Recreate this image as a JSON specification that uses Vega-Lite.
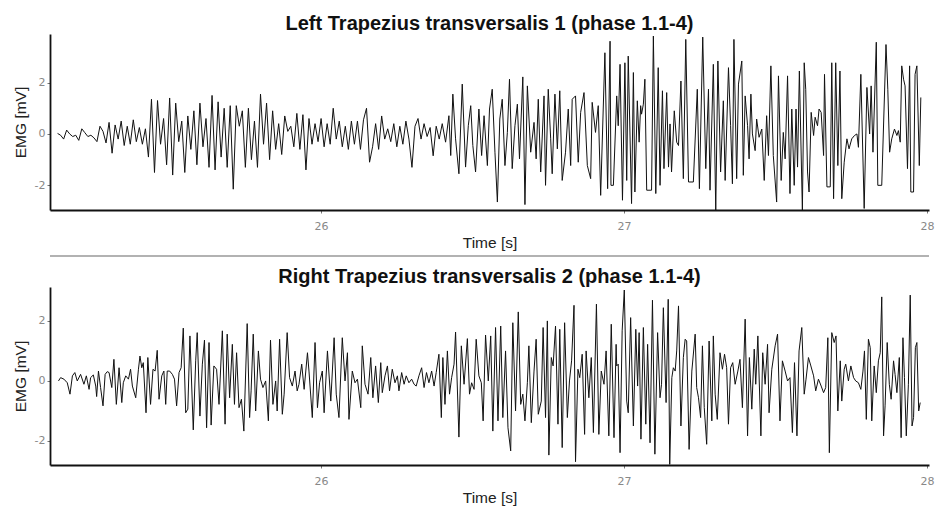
{
"$schema": "https://vega.github.io/schema/vega-lite/v6.json",
"padding": {"left": 13, "top": 13, "right": 4, "bottom": 3},
"spacing": 4,
"config": {
  "view": {"stroke": null},
  "font": "Liberation Sans",
  "title": {"fontSize": 20, "fontWeight": "bold", "font": "Liberation Sans", "color": "#111", "anchor": "middle", "frame": "group", "offset": 0.01},
  "axis": {"grid": false, "domainColor": "#111", "domainWidth": 1.8, "tickColor": "#777", "tickSize": 3, "labelColor": "#888", "labelFontSize": 11, "labelFont": "DejaVu Sans", "titleFontSize": 15.5, "titleFont": "Liberation Sans", "titleFontWeight": "normal", "titleColor": "#222"}
},
"datasets": {
"L": [
{"t":25.13,"v":0.02},{"t":25.14,"v":-0.05},{"t":25.15,"v":-0.2},{"t":25.16,"v":0.15},{"t":25.17,"v":0},{"t":25.18,"v":-0.1},{"t":25.19,"v":-0.05},{"t":25.20,"v":-0.25},{"t":25.21,"v":0.2},{"t":25.22,"v":0.05},{"t":25.23,"v":-0.1},{"t":25.24,"v":-0.05},{"t":25.25,"v":-0.15},{"t":25.26,"v":-0.3},{"t":25.27,"v":0.3},{"t":25.28,"v":0.1},{"t":25.29,"v":-0.35},{"t":25.30,"v":0.45},{"t":25.31,"v":-0.75},{"t":25.32,"v":0.35},{"t":25.33,"v":-0.2},{"t":25.34,"v":0.5},{"t":25.35,"v":-0.45},{"t":25.36,"v":0.3},{"t":25.37,"v":-0.4},{"t":25.38,"v":0.55},{"t":25.39,"v":-0.3},{"t":25.40,"v":0.25},{"t":25.41,"v":-0.4},{"t":25.42,"v":0.2},{"t":25.43,"v":-0.9},{"t":25.44,"v":1.35},{"t":25.45,"v":-1.5},{"t":25.46,"v":1.3},{"t":25.47,"v":-0.4},{"t":25.48,"v":0.6},{"t":25.49,"v":-1.2},{"t":25.50,"v":1.4},{"t":25.51,"v":-1.6},{"t":25.52,"v":1.2},{"t":25.53,"v":-0.3},{"t":25.54,"v":0.5},{"t":25.55,"v":-1.5},{"t":25.56,"v":0.7},{"t":25.57,"v":-0.6},{"t":25.58,"v":0.9},{"t":25.59,"v":-1.2},{"t":25.60,"v":1.2},{"t":25.61,"v":-0.5},{"t":25.62,"v":0.6},{"t":25.63,"v":-1.3},{"t":25.64,"v":1.5},{"t":25.65,"v":-1.4},{"t":25.66,"v":1.25},{"t":25.67,"v":-0.9},{"t":25.68,"v":1.0},{"t":25.69,"v":-1.3},{"t":25.70,"v":1.1},{"t":25.71,"v":-2.15},{"t":25.72,"v":1.1},{"t":25.73,"v":0.3},{"t":25.74,"v":0.9},{"t":25.75,"v":-1.3},{"t":25.76,"v":1.0},{"t":25.77,"v":-1.0},{"t":25.78,"v":0.5},{"t":25.79,"v":-1.3},{"t":25.80,"v":1.55},{"t":25.81,"v":-0.4},{"t":25.82,"v":1.2},{"t":25.83,"v":-1.0},{"t":25.84,"v":0.9},{"t":25.85,"v":-0.6},{"t":25.86,"v":0.4},{"t":25.87,"v":-0.8},{"t":25.88,"v":0.7},{"t":25.89,"v":0.1},{"t":25.90,"v":0.3},{"t":25.91,"v":-0.5},{"t":25.92,"v":0.8},{"t":25.93,"v":-0.6},{"t":25.94,"v":0.75},{"t":25.95,"v":-1.4},{"t":25.96,"v":0.6},{"t":25.97,"v":-0.4},{"t":25.98,"v":0.4},{"t":25.99,"v":-0.3},
{"t":26.00,"v":0.6},{"t":26.01,"v":-0.5},{"t":26.02,"v":0.4},{"t":26.03,"v":-0.4},{"t":26.04,"v":1.0},{"t":26.05,"v":-0.2},{"t":26.06,"v":0.5},{"t":26.07,"v":-0.5},{"t":26.08,"v":0.3},{"t":26.09,"v":-0.6},{"t":26.10,"v":0.5},{"t":26.11,"v":-0.4},{"t":26.12,"v":0.5},{"t":26.13,"v":-0.6},{"t":26.14,"v":0.55},{"t":26.15,"v":1.0},{"t":26.16,"v":-1.1},{"t":26.17,"v":-0.5},{"t":26.18,"v":0.4},{"t":26.19,"v":-0.6},{"t":26.20,"v":0.7},{"t":26.21,"v":-0.2},{"t":26.22,"v":0.2},{"t":26.23,"v":-0.3},{"t":26.24,"v":0.4},{"t":26.25,"v":-0.5},{"t":26.26,"v":0.3},{"t":26.27,"v":-0.4},{"t":26.28,"v":0.5},{"t":26.29,"v":-0.2},{"t":26.30,"v":-1.3},{"t":26.31,"v":0.3},{"t":26.32,"v":0.6},{"t":26.33,"v":-0.2},{"t":26.34,"v":0.4},{"t":26.35,"v":-0.1},{"t":26.36,"v":0.25},{"t":26.37,"v":-0.85},{"t":26.38,"v":0.3},{"t":26.39,"v":-0.2},{"t":26.40,"v":0.4},
{"t":26.411,"v":-0.32},{"t":26.422,"v":0.71},{"t":26.428,"v":-0.84},{"t":26.435,"v":1.55},{"t":26.444,"v":-0.19},{"t":26.455,"v":-1.55},{"t":26.466,"v":1.94},{"t":26.477,"v":-1.29},{"t":26.486,"v":0.32},{"t":26.494,"v":1.1},{"t":26.501,"v":-0.45},{"t":26.510,"v":-1.48},{"t":26.521,"v":0.97},{"t":26.530,"v":-0.84},{"t":26.538,"v":0.71},{"t":26.549,"v":-1.23},{"t":26.556,"v":0.97},{"t":26.565,"v":1.74},{"t":26.574,"v":-0.71},{"t":26.582,"v":-2.65},{"t":26.590,"v":0.58},{"t":26.598,"v":1.35},{"t":26.607,"v":-1.23},{"t":26.615,"v":0.06},{"t":26.622,"v":2.13},{"t":26.631,"v":-1.35},{"t":26.640,"v":0.32},{"t":26.648,"v":1.16},{"t":26.655,"v":-0.97},{"t":26.666,"v":2.22},{"t":26.673,"v":-2.75},{"t":26.681,"v":1.87},{"t":26.692,"v":-0.71},{"t":26.703,"v":0.45},{"t":26.710,"v":-0.97},{"t":26.717,"v":1.35},{"t":26.725,"v":-1.48},{"t":26.736,"v":1.48},{"t":26.741,"v":-2.0},{"t":26.750,"v":1.74},{"t":26.758,"v":-0.19},{"t":26.763,"v":-1.55},{"t":26.772,"v":1.55},{"t":26.780,"v":-0.58},{"t":26.788,"v":1.68},{"t":26.796,"v":-1.81},{"t":26.807,"v":-0.71},{"t":26.816,"v":0.97},{"t":26.824,"v":-1.23},{"t":26.829,"v":1.35},{"t":26.840,"v":1.48},{"t":26.849,"v":-1.1},{"t":26.857,"v":0.84},{"t":26.868,"v":1.61},{"t":26.879,"v":-1.23},{"t":26.890,"v":-1.74},{"t":26.895,"v":1.23},{"t":26.906,"v":0.06},{"t":26.915,"v":1.1},{"t":26.923,"v":-2.39},
{"t":26.937,"v":3.16},{"t":26.946,"v":-2.13},{"t":26.954,"v":3.61},{"t":26.957,"v":-2.0},{"t":26.965,"v":-2.0},{"t":26.976,"v":1.48},{"t":26.981,"v":0.32},{"t":26.987,"v":2.71},{"t":26.995,"v":-2.58},{"t":27.003,"v":2.77},{"t":27.009,"v":-1.81},{"t":27.014,"v":3.03},{"t":27.025,"v":-2.71},{"t":27.031,"v":2.39},{"t":27.036,"v":-2.26},{"t":27.044,"v":1.29},{"t":27.050,"v":-0.32},{"t":27.055,"v":1.1},{"t":27.058,"v":0.77},{"t":27.064,"v":1.16},{"t":27.069,"v":2.13},{"t":27.075,"v":-2.19},{"t":27.091,"v":-2.19},{"t":27.097,"v":3.81},{"t":27.105,"v":-2.32},{"t":27.113,"v":2.58},{"t":27.119,"v":-2.0},{"t":27.127,"v":1.68},{"t":27.132,"v":-1.35},{"t":27.141,"v":1.61},{"t":27.147,"v":-1.29},{"t":27.152,"v":0.39},{"t":27.157,"v":-1.48},{"t":27.166,"v":0.9},{"t":27.174,"v":-0.32},{"t":27.180,"v":-0.45},{"t":27.188,"v":2.06},{"t":27.196,"v":-1.74},{"t":27.204,"v":3.68},{"t":27.213,"v":-1.87},{"t":27.229,"v":-1.87},{"t":27.242,"v":1.74},{"t":27.249,"v":-2.13},{"t":27.260,"v":3.77},{"t":27.270,"v":-1.35},{"t":27.279,"v":1.74},{"t":27.284,"v":-2.19},{"t":27.295,"v":2.71},{"t":27.303,"v":-2.97},{"t":27.310,"v":2.84},{"t":27.319,"v":-1.48},{"t":27.328,"v":1.29},{"t":27.334,"v":-1.81},{"t":27.345,"v":2.58},{"t":27.352,"v":0.32},{"t":27.358,"v":-1.94},{"t":27.363,"v":3.68},{"t":27.372,"v":-1.74},{"t":27.378,"v":1.94},{"t":27.389,"v":2.84},{"t":27.394,"v":-1.61},{"t":27.400,"v":1.48},{"t":27.408,"v":0.32},{"t":27.413,"v":-0.97},{"t":27.419,"v":1.55},{"t":27.424,"v":0.0},{"t":27.433,"v":-0.65},{"t":27.438,"v":0.58},{"t":27.446,"v":-0.13},{"t":27.455,"v":0.19},{"t":27.463,"v":-1.81},{"t":27.471,"v":0.71},{"t":27.477,"v":-0.84},{"t":27.485,"v":2.65},{"t":27.493,"v":-0.84},{"t":27.504,"v":-2.65},{"t":27.510,"v":2.26},{"t":27.519,"v":-1.81},{"t":27.526,"v":0.06},{"t":27.532,"v":-0.97},{"t":27.540,"v":2.26},{"t":27.548,"v":-2.32},{"t":27.554,"v":0.97},{"t":27.562,"v":-2.0},{"t":27.568,"v":0.97},{"t":27.573,"v":-1.29},{"t":27.579,"v":2.45},{"t":27.589,"v":-2.97},{"t":27.595,"v":2.77},{"t":27.600,"v":1.74},{"t":27.606,"v":-1.48},{"t":27.611,"v":-2.26},{"t":27.618,"v":0.84},{"t":27.626,"v":-0.06},{"t":27.631,"v":0.65},{"t":27.639,"v":0.32},{"t":27.644,"v":0.97},{"t":27.651,"v":0.84},{"t":27.659,"v":-0.84},{"t":27.662,"v":2.32},{"t":27.670,"v":-2.06},{"t":27.681,"v":-2.06},{"t":27.686,"v":2.77},{"t":27.692,"v":-2.52},{"t":27.699,"v":2.77},{"t":27.706,"v":-1.23},{"t":27.713,"v":2.45},{"t":27.719,"v":-2.52},{"t":27.727,"v":-1.1},{"t":27.736,"v":-0.19},{"t":27.743,"v":-0.58},{"t":27.752,"v":-0.19},{"t":27.761,"v":-0.06},{"t":27.769,"v":0.0},{"t":27.774,"v":-0.52},{"t":27.782,"v":2.32},{"t":27.793,"v":-2.9},{"t":27.802,"v":1.81},{"t":27.811,"v":0.0},{"t":27.816,"v":1.87},{"t":27.822,"v":-0.71},{"t":27.833,"v":3.57},{"t":27.838,"v":-2.0},{"t":27.851,"v":-2.0},{"t":27.865,"v":3.48},{"t":27.871,"v":1.74},{"t":27.877,"v":-0.71},{"t":27.884,"v":-0.19},{"t":27.893,"v":0.19},{"t":27.901,"v":-0.06},{"t":27.906,"v":0.13},{"t":27.912,"v":-0.32},{"t":27.917,"v":2.65},{"t":27.923,"v":2.13},{"t":27.928,"v":1.87},{"t":27.936,"v":-1.35},{"t":27.943,"v":2.65},{"t":27.947,"v":-2.26},{"t":27.956,"v":-2.26},{"t":27.961,"v":2.32},{"t":27.967,"v":2.65},{"t":27.975,"v":-1.23},{"t":27.980,"v":1.42}
],
"R": [
{"t":25.133,"v":0.0},{"t":25.140,"v":0.11},{"t":25.151,"v":0.06},{"t":25.162,"v":-0.06},{"t":25.171,"v":-0.44},{"t":25.179,"v":0.17},{"t":25.187,"v":0.28},{"t":25.195,"v":0.0},{"t":25.206,"v":0.22},{"t":25.217,"v":-0.11},{"t":25.225,"v":0.17},{"t":25.234,"v":-0.28},{"t":25.239,"v":0.11},{"t":25.248,"v":0.2},{"t":25.256,"v":-0.17},{"t":25.259,"v":-0.52},{"t":25.265,"v":0.33},{"t":25.272,"v":-0.22},{"t":25.280,"v":-0.83},{"t":25.287,"v":0.22},{"t":25.294,"v":0.31},{"t":25.300,"v":0.28},{"t":25.309,"v":-0.22},{"t":25.316,"v":0.72},{"t":25.324,"v":-0.78},{"t":25.333,"v":0.44},{"t":25.342,"v":-0.72},{"t":25.347,"v":-0.06},{"t":25.355,"v":0.17},{"t":25.364,"v":0.06},{"t":25.371,"v":0.39},{"t":25.377,"v":-0.17},{"t":25.388,"v":-0.56},{"t":25.397,"v":0.39},{"t":25.402,"v":0.83},{"t":25.408,"v":0.44},{"t":25.413,"v":0.61},{"t":25.422,"v":-1.06},{"t":25.428,"v":0.78},{"t":25.437,"v":-0.78},{"t":25.445,"v":0.39},{"t":25.452,"v":0.33},{"t":25.459,"v":1.02},{"t":25.465,"v":-0.61},{"t":25.474,"v":0.17},{"t":25.481,"v":0.33},{"t":25.487,"v":-0.78},{"t":25.492,"v":0.33},{"t":25.500,"v":0.33},{"t":25.509,"v":0.22},{"t":25.516,"v":0.06},{"t":25.523,"v":-0.83},{"t":25.531,"v":0.28},{"t":25.538,"v":0.44},{"t":25.545,"v":1.76},{"t":25.553,"v":-1.06},{"t":25.560,"v":-0.94},{"t":25.567,"v":1.5},{"t":25.578,"v":-1.63},{"t":25.586,"v":0.67},{"t":25.591,"v":1.61},{"t":25.600,"v":-1.17},{"t":25.608,"v":0.56},{"t":25.615,"v":1.36},{"t":25.622,"v":-1.56},{"t":25.630,"v":1.28},{"t":25.637,"v":-1.47},{"t":25.646,"v":0.5},{"t":25.655,"v":0.39},{"t":25.663,"v":-0.78},{"t":25.674,"v":1.67},{"t":25.683,"v":-1.44},{"t":25.690,"v":1.56},{"t":25.698,"v":-0.56},{"t":25.707,"v":1.22},{"t":25.714,"v":-0.78},{"t":25.721,"v":0.94},{"t":25.729,"v":-0.89},{"t":25.737,"v":-0.61},{"t":25.745,"v":-1.67},{"t":25.756,"v":1.91},{"t":25.764,"v":-1.22},{"t":25.769,"v":-0.33},{"t":25.776,"v":1.56},{"t":25.784,"v":-1.0},{"t":25.793,"v":1.0},{"t":25.800,"v":0.06},{"t":25.808,"v":-0.22},{"t":25.817,"v":0.0},{"t":25.826,"v":-1.33},{"t":25.833,"v":1.36},{"t":25.841,"v":-0.78},{"t":25.850,"v":0.0},{"t":25.855,"v":-1.0},{"t":25.863,"v":1.39},{"t":25.872,"v":-1.11},{"t":25.878,"v":-0.44},{"t":25.888,"v":1.61},{"t":25.896,"v":0.11},{"t":25.905,"v":-0.17},{"t":25.914,"v":0.33},{"t":25.921,"v":-0.33},{"t":25.927,"v":-0.11},
{"t":25.936,"v":0.56},{"t":25.944,"v":-0.28},{"t":25.955,"v":0.94},{"t":25.960,"v":0.33},{"t":25.971,"v":-1.22},{"t":25.980,"v":1.28},{"t":25.988,"v":-0.89},{"t":25.995,"v":-0.06},{"t":26.004,"v":0.33},{"t":26.010,"v":-1.06},{"t":26.021,"v":1.0},{"t":26.032,"v":-0.67},{"t":26.043,"v":1.44},{"t":26.050,"v":-0.44},{"t":26.059,"v":-1.22},{"t":26.070,"v":1.44},{"t":26.079,"v":0.0},{"t":26.087,"v":0.94},{"t":26.092,"v":-1.28},{"t":26.103,"v":0.33},{"t":26.112,"v":-0.06},{"t":26.120,"v":0.06},{"t":26.131,"v":-0.89},{"t":26.136,"v":1.17},{"t":26.145,"v":-0.11},{"t":26.155,"v":-0.44},{"t":26.164,"v":0.78},{"t":26.171,"v":-0.56},{"t":26.180,"v":0.5},{"t":26.189,"v":-0.72},{"t":26.197,"v":0.61},{"t":26.202,"v":-0.39},{"t":26.211,"v":0.17},{"t":26.219,"v":0.5},{"t":26.226,"v":-0.33},{"t":26.235,"v":0.39},{"t":26.244,"v":-0.06},{"t":26.252,"v":0.17},{"t":26.257,"v":-0.33},{"t":26.266,"v":0.28},{"t":26.274,"v":-0.11},{"t":26.281,"v":0.17},{"t":26.290,"v":-0.06},{"t":26.299,"v":0.06},{"t":26.307,"v":-0.11},{"t":26.314,"v":-0.17},{"t":26.323,"v":0.17},{"t":26.332,"v":0.44},{"t":26.340,"v":-0.22},{"t":26.348,"v":0.28},{"t":26.356,"v":-0.06},{"t":26.365,"v":0.33},{"t":26.373,"v":-0.17},{"t":26.380,"v":0.28},{"t":26.389,"v":0.89},{"t":26.397,"v":-1.22},{"t":26.402,"v":0.78},{"t":26.409,"v":-0.78},{"t":26.417,"v":1.0},{"t":26.424,"v":-0.44},{"t":26.431,"v":0.11},{"t":26.439,"v":0.56},{"t":26.444,"v":1.63},{"t":26.455,"v":-1.87},{"t":26.463,"v":1.17},{"t":26.472,"v":-0.11},{"t":26.483,"v":1.41},{"t":26.490,"v":-0.44},{"t":26.497,"v":-0.06},{"t":26.505,"v":-0.28},{"t":26.512,"v":1.39},{"t":26.521,"v":0.17},{"t":26.529,"v":-0.06},{"t":26.535,"v":-1.33},{"t":26.543,"v":1.53},{"t":26.552,"v":0.0},{"t":26.560,"v":1.5},{"t":26.567,"v":-1.67},{"t":26.576,"v":1.78},{"t":26.584,"v":-1.33},{"t":26.593,"v":1.83},{"t":26.600,"v":-1.22},{"t":26.609,"v":1.0},{"t":26.617,"v":-1.56},{"t":26.626,"v":-2.33},{"t":26.633,"v":1.94},{"t":26.642,"v":-1.0},{"t":26.651,"v":2.3},{"t":26.659,"v":-0.78},{"t":26.666,"v":-0.44},{"t":26.673,"v":-1.33},{"t":26.681,"v":-0.06},{"t":26.686,"v":1.17},{"t":26.694,"v":-1.39},{"t":26.703,"v":0.33},{"t":26.710,"v":1.39},{"t":26.717,"v":-1.11},{"t":26.727,"v":-0.67},{"t":26.733,"v":1.78},{"t":26.741,"v":-1.22},{"t":26.747,"v":2.0},{"t":26.752,"v":-2.47},{"t":26.760,"v":0.78},{"t":26.766,"v":0.5},{"t":26.774,"v":1.83},{"t":26.782,"v":-1.44},{"t":26.788,"v":1.72},{"t":26.796,"v":-2.22},{"t":26.804,"v":1.94},{"t":26.813,"v":-1.22},{"t":26.820,"v":0.0},{"t":26.827,"v":0.67},{"t":26.835,"v":2.52},{"t":26.840,"v":-2.69},{"t":26.848,"v":0.39},{"t":26.854,"v":0.11},{"t":26.862,"v":0.89},{"t":26.870,"v":-1.78},{"t":26.875,"v":1.0},{"t":26.884,"v":-0.56},{"t":26.892,"v":0.78},{"t":26.899,"v":-1.72},{"t":26.909,"v":2.56},{"t":26.917,"v":-1.78},{"t":26.925,"v":0.33},{"t":26.934,"v":-0.11},{"t":26.941,"v":1.0},{"t":26.950,"v":-1.83},{"t":26.958,"v":1.89},{"t":26.967,"v":-1.89},{"t":26.974,"v":1.22},
{"t":26.976,"v":0.5},{"t":26.981,"v":0.56},{"t":26.987,"v":-2.39},{"t":26.994,"v":1.67},{"t":27.001,"v":3.03},{"t":27.009,"v":-0.67},{"t":27.014,"v":-1.06},{"t":27.022,"v":2.11},{"t":27.031,"v":-1.5},{"t":27.039,"v":1.72},{"t":27.045,"v":-0.17},{"t":27.050,"v":1.61},{"t":27.056,"v":-1.94},{"t":27.064,"v":1.78},{"t":27.072,"v":-1.44},{"t":27.078,"v":1.22},{"t":27.086,"v":-2.06},{"t":27.094,"v":2.69},{"t":27.102,"v":-2.44},{"t":27.111,"v":1.61},{"t":27.119,"v":-0.56},{"t":27.124,"v":-0.11},{"t":27.130,"v":2.44},{"t":27.139,"v":-0.72},{"t":27.146,"v":2.72},{"t":27.151,"v":-2.78},{"t":27.158,"v":0.11},{"t":27.163,"v":0.44},{"t":27.169,"v":0.33},{"t":27.174,"v":1.0},{"t":27.180,"v":2.5},{"t":27.188,"v":-1.5},{"t":27.196,"v":0.78},{"t":27.202,"v":1.39},{"t":27.207,"v":1.33},{"t":27.215,"v":-2.28},{"t":27.224,"v":0.33},{"t":27.235,"v":1.56},{"t":27.240,"v":-0.22},{"t":27.246,"v":-0.56},{"t":27.253,"v":-1.22},{"t":27.259,"v":1.17},{"t":27.265,"v":-0.89},{"t":27.273,"v":-2.11},{"t":27.281,"v":1.33},{"t":27.290,"v":-1.33},{"t":27.295,"v":1.5},{"t":27.301,"v":-0.44},{"t":27.308,"v":-1.28},{"t":27.317,"v":0.94},{"t":27.325,"v":0.39},{"t":27.332,"v":0.89},{"t":27.339,"v":0.44},{"t":27.345,"v":-1.44},{"t":27.352,"v":0.44},{"t":27.359,"v":0.61},{"t":27.367,"v":-0.11},{"t":27.376,"v":0.33},{"t":27.383,"v":0.72},{"t":27.391,"v":-0.89},{"t":27.400,"v":2.06},{"t":27.408,"v":-1.83},{"t":27.414,"v":0.78},{"t":27.422,"v":-0.94},{"t":27.430,"v":1.06},{"t":27.435,"v":-0.11},{"t":27.442,"v":1.5},{"t":27.452,"v":-1.83},{"t":27.458,"v":0.94},{"t":27.466,"v":-0.11},{"t":27.474,"v":1.22},{"t":27.479,"v":-1.06},{"t":27.488,"v":0.39},{"t":27.499,"v":1.17},{"t":27.507,"v":1.56},{"t":27.515,"v":-1.33},{"t":27.523,"v":0.67},{"t":27.532,"v":0.33},{"t":27.540,"v":0.0},{"t":27.548,"v":0.11},{"t":27.556,"v":-1.72},{"t":27.563,"v":0.61},{"t":27.571,"v":-1.83},{"t":27.578,"v":1.0},{"t":27.587,"v":1.78},{"t":27.595,"v":-0.44},{"t":27.601,"v":0.06},{"t":27.609,"v":0.78},{"t":27.617,"v":0.5},{"t":27.626,"v":0.17},{"t":27.633,"v":-0.33},{"t":27.642,"v":0.06},{"t":27.651,"v":-0.17},{"t":27.659,"v":-0.39},{"t":27.666,"v":-0.22},{"t":27.673,"v":1.44},{"t":27.678,"v":-2.39},{"t":27.686,"v":1.61},{"t":27.694,"v":1.28},{"t":27.700,"v":1.5},{"t":27.706,"v":-1.0},{"t":27.714,"v":0.67},{"t":27.719,"v":-0.67},{"t":27.727,"v":0.39},{"t":27.732,"v":0.56},{"t":27.741,"v":0.0},{"t":27.749,"v":0.5},{"t":27.758,"v":0.11},{"t":27.765,"v":0.0},{"t":27.774,"v":-0.06},{"t":27.782,"v":-0.28},{"t":27.789,"v":0.33},{"t":27.794,"v":1.0},{"t":27.800,"v":-1.28},{"t":27.807,"v":1.39},{"t":27.813,"v":1.11},{"t":27.818,"v":-1.33},{"t":27.826,"v":0.5},{"t":27.833,"v":-0.39},{"t":27.840,"v":0.67},{"t":27.846,"v":0.94},{"t":27.851,"v":2.8},{"t":27.857,"v":-1.83},{"t":27.862,"v":-0.83},{"t":27.869,"v":1.28},{"t":27.876,"v":-0.11},{"t":27.882,"v":-0.61},{"t":27.890,"v":0.67},{"t":27.895,"v":0.22},{"t":27.901,"v":-0.39},{"t":27.909,"v":0.78},{"t":27.915,"v":-1.89},{"t":27.921,"v":1.44},{"t":27.926,"v":0.11},{"t":27.932,"v":-1.83},{"t":27.939,"v":-0.11},{"t":27.945,"v":2.86},{"t":27.951,"v":-1.5},{"t":27.956,"v":-1.22},{"t":27.962,"v":1.11},{"t":27.967,"v":1.28},{"t":27.973,"v":-1.0},{"t":27.978,"v":-0.72}
],
"sep": [{"s": 1}]
},
"vconcat": [
  {
    "data": {"name": "L"},
    "title": "Left Trapezius transversalis 1 (phase 1.1-4)",
    "width": 879, "height": 176,
    "mark": {"type": "line", "color": "#111", "strokeWidth": 1},
    "encoding": {
      "x": {"field": "t", "type": "quantitative", "scale": {"domain": [25.105, 28.007], "nice": false, "zero": false},
            "axis": {"values": [26, 27, 28], "title": "Time [s]", "labelPadding": 7, "titlePadding": 4}},
      "y": {"field": "v", "type": "quantitative", "scale": {"domain": [-2.96, 3.89], "nice": false, "zero": false},
            "axis": {"values": [-2, 0, 2], "title": "EMG [mV]", "titlePadding": 6, "labelExpr": "datum.value < 0 ? '-' + (-datum.value) : '' + datum.value"}}
    }
  },
  {
    "data": {"name": "sep"},
    "width": 879, "height": 6,
    "mark": {"type": "rule", "color": "#999", "strokeWidth": 1.5},
    "encoding": {"y": {"field": "s", "type": "quantitative", "scale": {"domain": [0, 1]}, "axis": null}}
  },
  {
    "data": {"name": "R"},
    "title": "Right Trapezius transversalis 2 (phase 1.1-4)",
    "width": 879, "height": 178,
    "mark": {"type": "line", "color": "#111", "strokeWidth": 1},
    "encoding": {
      "x": {"field": "t", "type": "quantitative", "scale": {"domain": [25.105, 28.007], "nice": false, "zero": false},
            "axis": {"values": [26, 27, 28], "title": "Time [s]", "labelPadding": 7, "titlePadding": 4}},
      "y": {"field": "v", "type": "quantitative", "scale": {"domain": [-2.8, 3.13], "nice": false, "zero": false},
            "axis": {"values": [-2, 0, 2], "title": "EMG [mV]", "titlePadding": 6, "labelExpr": "datum.value < 0 ? '-' + (-datum.value) : '' + datum.value"}}
    }
  }
]
}
